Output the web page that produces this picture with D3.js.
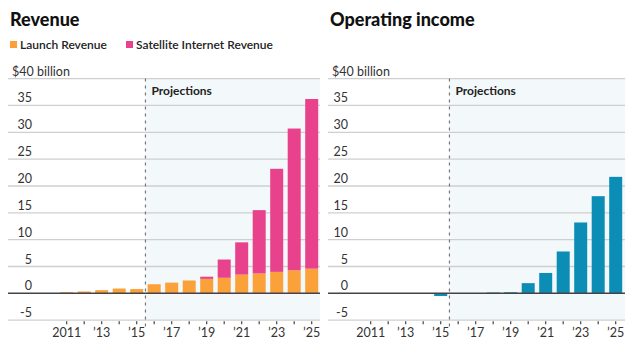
<!DOCTYPE html>
<html><head><meta charset="utf-8">
<script src="https://cdn.jsdelivr.net/npm/d3@7"></script>
<style>
body{margin:0;background:#fff;}
svg text{font-family:"Lato","Roboto",sans-serif;}
</style></head>
<body><svg id="c" width="640" height="351"></svg>
<script>
const years = [2011,2012,2013,2014,2015,2016,2017,2018,2019,2020,2021,2022,2023,2024,2025];
const launchRevenue = [0.2,0.35,0.6,0.9,0.8,1.7,2.0,2.4,2.7,2.9,3.5,3.7,4.0,4.3,4.6];
const satelliteRevenue = [0,0,0,0,0,0,0,0,0.4,3.4,6.0,11.8,19.2,26.4,31.6];
const operatingIncome = [0,0,0,0,-0.5,0,0,0.15,0.2,1.9,3.8,7.8,13.2,18.1,21.7];
const yTicks = [-5,0,5,10,15,20,25,30,35,40];
const xTickLabels = {2011:"2011",2013:"’13",2015:"’15",2017:"’17",2019:"’19",2021:"’21",2023:"’23",2025:"’25"};
const projectionStart = 2015.5;
const colors = {launch:"#fba13a", sat:"#e8428c", op:"#0b8db6"};

const svg = d3.select("#c");
const y = d3.scaleLinear().domain([-5,40]).range([320.2,78.6]);

function panel(cfg){
  const g = svg.append("g");
  const x = d3.scaleLinear().domain([2011,2025]).range([cfg.x2011, cfg.x2011+245]);
  const bw = 13;
  g.append("text").attr("x",cfg.left+2).attr("y",26).attr("font-size",18).attr("font-weight",900)
    .attr("fill","#111").text(cfg.title);
  g.append("rect").attr("x",x(projectionStart)).attr("y",y(40))
    .attr("width",cfg.right - x(projectionStart)).attr("height",y(-5)-y(40)).attr("fill","#f3f8fa");
  g.selectAll(".grid").data(yTicks.filter(d=>d!==0)).join("line")
    .attr("x1",cfg.left).attr("x2",cfg.right).attr("y1",d=>y(d)).attr("y2",d=>y(d))
    .attr("stroke","#cfcfcf").attr("stroke-width",1.3);
  g.selectAll(".yl").data(yTicks).join("text")
    .attr("x",d=>d===40?cfg.left+4:cfg.labelRight).attr("y",d=>y(d)-3)
    .attr("text-anchor",d=>d===40?"start":"end").attr("font-size",12.5).attr("fill","#333")
    .text(d=>d===40?"$40 billion":d<0?"-"+Math.abs(d):d);
  g.append("line").attr("x1",x(projectionStart)).attr("x2",x(projectionStart))
    .attr("y1",y(40)).attr("y2",y(-5)+8).attr("stroke","#777").attr("stroke-width",1.2)
    .attr("stroke-dasharray","3,4");
  g.append("text").attr("x",x(projectionStart)+6).attr("y",y(37)).attr("font-size",12)
    .attr("font-weight",700).attr("fill","#222").text("Projections");
  cfg.bars(g,x,bw);
  g.append("line").attr("x1",cfg.left).attr("x2",cfg.right).attr("y1",y(0)).attr("y2",y(0))
    .attr("stroke","#444").attr("stroke-width",1.5);
  g.selectAll(".xt").data(years).join("line")
    .attr("x1",d=>x(d)).attr("x2",d=>x(d)).attr("y1",y(-5)+1).attr("y2",y(-5)+4)
    .attr("stroke","#444").attr("stroke-width",1.2);
  g.selectAll(".xl").data(years.filter(d=>xTickLabels[d])).join("text")
    .attr("x",d=>x(d)).attr("y",337).attr("text-anchor","middle").attr("font-size",12.5)
    .attr("fill","#333").text(d=>xTickLabels[d]);
}

panel({title:"Revenue", left:8, right:320, labelRight:32, x2011:66.7,
  bars:(g,x,bw)=>{
    g.selectAll(".l").data(years).join("rect")
      .attr("x",(d)=>x(d)-bw/2).attr("width",bw)
      .attr("y",(d,i)=>y(launchRevenue[i])).attr("height",(d,i)=>y(0)-y(launchRevenue[i]))
      .attr("fill",colors.launch);
    g.selectAll(".s").data(years).join("rect")
      .attr("x",(d)=>x(d)-bw/2).attr("width",bw)
      .attr("y",(d,i)=>y(launchRevenue[i]+satelliteRevenue[i]))
      .attr("height",(d,i)=>y(launchRevenue[i])-y(launchRevenue[i]+satelliteRevenue[i]))
      .attr("fill",colors.sat);
  }});

panel({title:"Operating income", left:328, right:625, labelRight:348, x2011:370.7,
  bars:(g,x,bw)=>{
    g.selectAll(".o").data(years).join("rect")
      .attr("x",(d)=>x(d)-bw/2).attr("width",bw)
      .attr("y",(d,i)=>y(Math.max(0,operatingIncome[i])))
      .attr("height",(d,i)=>Math.abs(y(operatingIncome[i])-y(0)))
      .attr("fill",colors.op);
  }});

const legend = [{k:"Launch Revenue",c:colors.launch,x:10},{k:"Satellite Internet Revenue",c:colors.sat,x:126}];
const lg = svg.append("g");
lg.selectAll("rect").data(legend).join("rect").attr("x",d=>d.x).attr("y",41).attr("width",7).attr("height",7).attr("fill",d=>d.c);
lg.selectAll("text").data(legend).join("text").attr("x",d=>d.x+10).attr("y",49).attr("font-size",12)
  .attr("font-weight",600).attr("fill","#222").text(d=>d.k);
</script></body></html>
